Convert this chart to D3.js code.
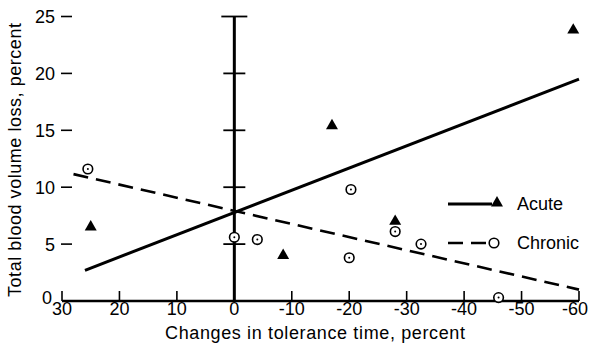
<!DOCTYPE html>
<html>
<head>
<meta charset="utf-8">
<script src="https://cdn.jsdelivr.net/npm/d3@7"></script>
<style>
  body { margin: 0; background: #fff; }
  svg text { font-family: "Liberation Sans", Arial, sans-serif; fill: #000; }
</style>
</head>
<body>
<svg id="chart" width="589" height="348"></svg>
<script>
// data
const acute = [
  { x: 25, y: 6.5 },
  { x: -8.5, y: 4.0 },
  { x: -17, y: 15.4 },
  { x: -28, y: 7.0 },
  { x: -59, y: 23.8 }
];
const chronic = [
  { x: 25.5, y: 11.6 },
  { x: 0, y: 5.6 },
  { x: -4, y: 5.4 },
  { x: -20.3, y: 9.8 },
  { x: -20, y: 3.8 },
  { x: -28, y: 6.1 },
  { x: -32.5, y: 5.0 },
  { x: -46, y: 0.3 }
];
// regression lines (end points)
const acuteFit = [{ x: 26, y: 2.7 }, { x: -60, y: 19.5 }];
const chronicFit = [{ x: 28, y: 11.15 }, { x: -60, y: 1.0 }];

const xTicks = [30, 20, 10, 0, -10, -20, -30, -40, -50, -60];
const yTicks = [0, 5, 10, 15, 20, 25];

const svg = d3.select("#chart");

const x = d3.scaleLinear().domain([30, -60]).range([62, 579]);
const y = d3.scaleLinear().domain([0, 25]).range([301, 16.5]);

// bottom axis line
svg.append("line")
  .attr("x1", x(30)).attr("x2", x(-60))
  .attr("y1", y(0)).attr("y2", y(0))
  .attr("stroke", "#000").attr("stroke-width", 2.5);

// bottom ticks (pointing up)
svg.selectAll(".xt").data(xTicks.filter(d => d !== 0)).join("line")
  .attr("x1", d => x(d)).attr("x2", d => x(d))
  .attr("y1", y(0)).attr("y2", y(0) - 10)
  .attr("stroke", "#000").attr("stroke-width", 1.6);

svg.selectAll(".xl").data(xTicks).join("text")
  .attr("x", d => d === -60 ? 588 : x(d))
  .attr("y", 315)
  .attr("text-anchor", d => d === -60 ? "end" : "middle")
  .attr("font-size", 18)
  .text(d => String(d));

// left tick dashes + labels (no axis line)
svg.selectAll(".yt").data(yTicks.filter(d => d !== 0)).join("line")
  .attr("x1", 61).attr("x2", 72)
  .attr("y1", d => y(d)).attr("y2", d => y(d))
  .attr("stroke", "#000").attr("stroke-width", 1.6);

svg.selectAll(".yl").data(yTicks).join("text")
  .attr("x", d => d === 0 ? 52 : 55)
  .attr("y", d => d === 0 ? y(d) - 3 : y(d))
  .attr("dy", "0.36em")
  .attr("text-anchor", "end")
  .attr("font-size", 18)
  .text(d => String(d));

// vertical axis at x = 0 with crossing ticks
svg.append("line")
  .attr("x1", x(0)).attr("x2", x(0))
  .attr("y1", y(25)).attr("y2", y(0))
  .attr("stroke", "#000").attr("stroke-width", 3);

svg.selectAll(".ct").data(yTicks.filter(d => d !== 0)).join("line")
  .attr("x1", d => x(0) - (d === 25 ? 13 : 11))
  .attr("x2", d => x(0) + (d === 25 ? 13 : 11))
  .attr("y1", d => y(d)).attr("y2", d => y(d))
  .attr("stroke", "#000").attr("stroke-width", 1.8);

// fitted lines
const line = d3.line().x(d => x(d.x)).y(d => y(d.y));

svg.append("path")
  .attr("d", line(acuteFit))
  .attr("fill", "none").attr("stroke", "#000").attr("stroke-width", 3);

svg.append("path")
  .attr("d", line(chronicFit))
  .attr("fill", "none").attr("stroke", "#000").attr("stroke-width", 2.6)
  .attr("stroke-dasharray", "15,8");

// markers
const tri = d3.symbol().type(d3.symbolTriangle).size(62);

svg.selectAll(".acute").data(acute).join("path")
  .attr("d", tri)
  .attr("transform", d => `translate(${x(d.x)},${y(d.y)})`)
  .attr("fill", "#000");

const circ = svg.selectAll(".chronic").data(chronic).join("g")
  .attr("transform", d => `translate(${x(d.x)},${y(d.y)})`);
circ.append("circle").attr("r", 4.8)
  .attr("fill", "#fff").attr("stroke", "#000").attr("stroke-width", 1.6);
circ.append("circle").attr("r", 1).attr("fill", "#000");

// legend
const lg = svg.append("g");
lg.append("line").attr("x1", 448).attr("x2", 492).attr("y1", 204).attr("y2", 204)
  .attr("stroke", "#000").attr("stroke-width", 3);
lg.append("path").attr("d", tri).attr("transform", "translate(497,203)").attr("fill", "#000");
lg.append("text").attr("x", 517).attr("y", 204).attr("dy", "0.36em")
  .attr("font-size", 18).text("Acute");

lg.append("line").attr("x1", 448).attr("x2", 488).attr("y1", 243).attr("y2", 243)
  .attr("stroke", "#000").attr("stroke-width", 2.6).attr("stroke-dasharray", "15,8");
lg.append("circle").attr("cx", 494).attr("cy", 243).attr("r", 4.8)
  .attr("fill", "#fff").attr("stroke", "#000").attr("stroke-width", 1.6);
lg.append("text").attr("x", 517).attr("y", 243).attr("dy", "0.36em")
  .attr("font-size", 18).text("Chronic");

// axis titles
svg.append("text")
  .attr("x", 315).attr("y", 339)
  .attr("text-anchor", "middle")
  .attr("font-size", 18)
  .attr("textLength", 300).attr("lengthAdjust", "spacing")
  .text("Changes in tolerance time, percent");

svg.append("text")
  .attr("transform", "translate(21,160) rotate(-90)")
  .attr("text-anchor", "middle")
  .attr("font-size", 18)
  .attr("textLength", 274).attr("lengthAdjust", "spacing")
  .text("Total blood volume loss, percent");
</script>
</body>
</html>
